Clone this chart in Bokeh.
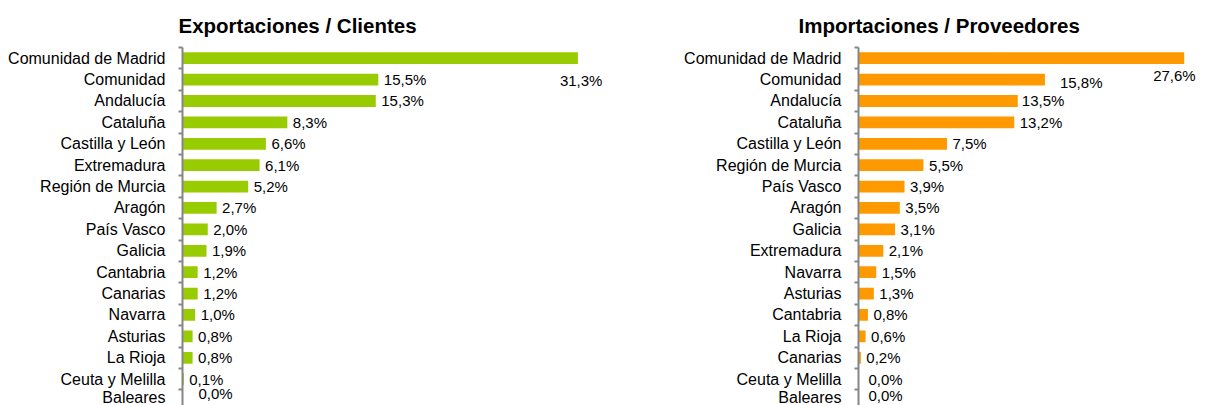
from bokeh.plotting import figure
from bokeh.layouts import row
from bokeh.models import ColumnDataSource, FixedTicker, Range1d
from bokeh.core.properties import value
from bokeh.embed import file_html
from bokeh.resources import INLINE

# ---- data ----
exp_title = "Exportaciones / Clientes"
exp_regions = ["Comunidad de Madrid", "Comunidad", "Andalucía", "Cataluña", "Castilla y León",
               "Extremadura", "Región de Murcia", "Aragón", "País Vasco", "Galicia", "Cantabria",
               "Canarias", "Navarra", "Asturias", "La Rioja", "Ceuta y Melilla", "Baleares"]
exp_values = [31.3, 15.5, 15.3, 8.3, 6.6, 6.1, 5.2, 2.7, 2.0, 1.9, 1.2, 1.2, 1.0, 0.8, 0.8, 0.1, 0.0]

imp_title = "Importaciones / Proveedores"
imp_regions = ["Comunidad de Madrid", "Comunidad", "Andalucía", "Cataluña", "Castilla y León",
               "Región de Murcia", "País Vasco", "Aragón", "Galicia", "Extremadura", "Navarra",
               "Asturias", "Cantabria", "La Rioja", "Canarias", "Ceuta y Melilla", "Baleares"]
imp_values = [27.6, 15.8, 13.5, 13.2, 7.5, 5.5, 3.9, 3.5, 3.1, 2.1, 1.5, 1.3, 0.8, 0.6, 0.2, 0.0, 0.0]

# ---- label placement (screen pixel offsets; style only) ----
exp_label_shift = {"Comunidad de Madrid": (-18, 22), "Baleares": (16, -7.5)}
imp_label_shift = {"Comunidad de Madrid": (-31, 17), "Comunidad": (15, 3),
                   "Andalucía": (4, 0), "Ceuta y Melilla": (10, 0), "Baleares": (10, -5.5)}

FONT = "Liberation Sans"
AXIS_GREY = "#868686"


def make_chart(title, regions, values, color, width, border_left, x_end, shift, title_offset):
    n = len(regions)
    idx = list(range(n))
    dx = [shift.get(r, (5.5, 0))[0] for r in regions]
    dy = [shift.get(r, (5.5, 0))[1] for r in regions]
    labels = [f"{v:.1f}%".replace(".", ",") for v in values]
    src = ColumnDataSource(dict(y=idx, v=values, lab=labels, dx=dx, dy=dy))

    p = figure(width=width, height=405, output_backend="svg", toolbar_location=None,
               x_range=Range1d(0, x_end), y_range=Range1d(16.23, -0.5),
               min_border_left=border_left, min_border_right=0,
               min_border_top=47, min_border_bottom=0, title=title)
    p.title.text_font = FONT
    p.title.text_font_size = "20.5px"
    p.title.text_font_style = "bold"
    p.title.text_color = "#000000"
    p.title.align = "left"
    p.title.offset = title_offset
    p.title.standoff = 22
    p.outline_line_color = None
    p.xgrid.visible = False
    p.ygrid.visible = False
    p.xaxis.visible = False

    p.hbar(y="y", left=0, right="v", height=0.55, source=src, fill_color=color, line_color=None)
    p.text(x="v", y="y", text="lab", x_offset="dx", y_offset="dy", source=src,
           text_font=value(FONT), text_font_size="15px", text_color="#000000",
           text_align="left", text_baseline="middle")

    ax = p.yaxis[0]
    ax.ticker = FixedTicker(ticks=idx, minor_ticks=[i - 0.5 for i in range(n + 1)])
    ax.major_label_overrides = {i: r for i, r in enumerate(regions)}
    ax.major_tick_out = 0
    ax.major_tick_in = 0
    ax.minor_tick_out = 4
    ax.minor_tick_in = 0
    ax.minor_tick_line_color = AXIS_GREY
    ax.minor_tick_line_width = 2
    ax.axis_line_color = AXIS_GREY
    ax.axis_line_width = 2
    ax.major_label_standoff = 13
    ax.major_label_text_font = FONT
    ax.major_label_text_font_size = "16px"
    ax.major_label_text_color = "#000000"
    return p


left = make_chart(exp_title, exp_regions, exp_values, "#99CC00", 658, 182, 37.68,
                  exp_label_shift, -4)
right = make_chart(imp_title, imp_regions, imp_values, "#FF9900", 554, 200, 30.0,
                   imp_label_shift, -60)

layout = row(left, right, spacing=0)
open("out.html", "w").write(file_html(layout, INLINE))
